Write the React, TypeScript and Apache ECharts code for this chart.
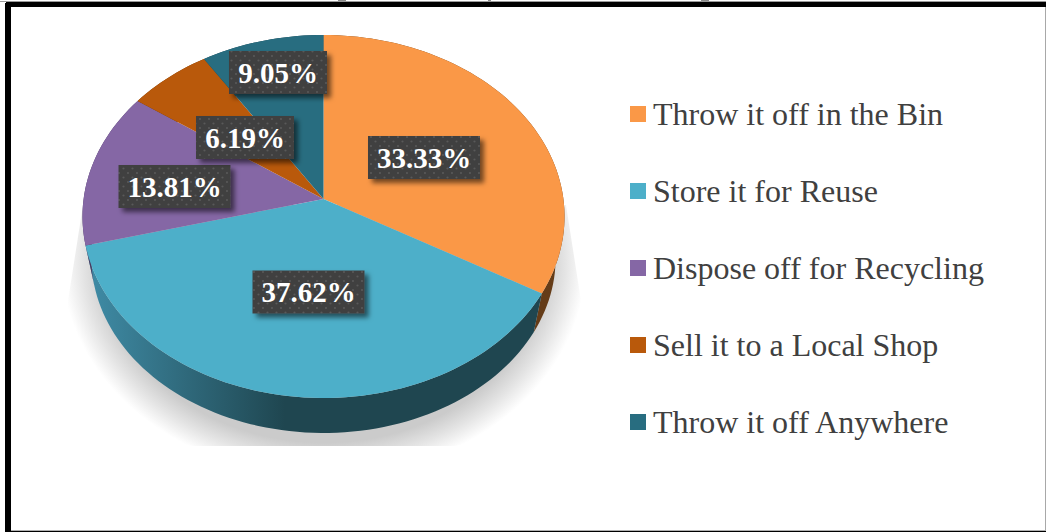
import React, { useEffect, useRef } from "react";
import * as echarts from "echarts";

// Shares of each disposal habit, in percent, clockwise from twelve o'clock.
const categories = [
  "Throw it off in the Bin",
  "Store it for Reuse",
  "Dispose off for Recycling",
  "Sell it to a Local Shop",
  "Throw it off Anywhere",
];
const shares = [33.33, 37.62, 13.81, 6.19, 9.05];

const sliceColors = ["#fa9847", "#4dafc9", "#8567a5", "#b9590b", "#286d80"];
const wallStops = [
  ["#8a5524", "#653c18"],
  ["#3f8ba5", "#1f4650"],
  ["#4a3a60", "#4a3a60"],
  ["#6b3506", "#6b3506"],
  ["#173f4a", "#173f4a"],
];
// Centre of each value tag on the canvas.
const tagCentres = [
  [424, 157.5],
  [308.5, 292],
  [174.5, 186.5],
  [245, 137.5],
  [278, 72.5],
];
const tagHeight = 43;

// Perspective tilt of the disc: the pie's hub sits above the middle of its ellipse.
const hubX = 323.5;
const hubY = 199;
const tilt = 0.0964;
const spreadX = 239.9;
const spreadY = 179.8;
const rimPoint = (share: number): number[] => {
  const t = (share / 100) * Math.PI * 2;
  const u = Math.sin(t);
  const v = -Math.cos(t);
  const d = 1 - v * tilt;
  return [hubX + (spreadX * u) / d, hubY + (spreadY * v) / d];
};
// The underside of the disc is slightly smaller and further down.
const undersidePoint = (p: number[]): number[] => [
  324 + (p[0] - 324) * 0.963,
  258 + (p[1] - 216.5) * 0.964,
];

const arcPoints = (from: number, to: number): number[][] => {
  const steps = Math.max(6, Math.ceil((to - from) * 2));
  const pts: number[][] = [];
  for (let i = 0; i <= steps; i++) pts.push(rimPoint(from + ((to - from) * i) / steps));
  return pts;
};

const makeDotTile = (): string => {
  const c = document.createElement("canvas");
  c.width = 9;
  c.height = 9;
  const g = c.getContext("2d")!;
  g.fillStyle = "rgba(255,255,255,0.13)";
  g.beginPath();
  g.arc(2, 2, 1.1, 0, Math.PI * 2);
  g.arc(6.5, 6.5, 1.1, 0, Math.PI * 2);
  g.fill();
  return c.toDataURL();
};

// Soft floor shadow: a flattened circle trimmed to a wedge and a flat lower edge.
const shadowCy = 262;
const shadowR = 262;
const shadowRy = 215;
const shadowSquash = shadowRy / shadowR;
const shadowPoints = (): number[][] => {
  const pts: number[][] = [];
  for (let i = 0; i < 180; i++) {
    const a = (i / 180) * Math.PI * 2;
    const y = Math.min(446, Math.max(205, shadowCy + Math.sin(a) * shadowRy));
    const k = Math.min(1, (y - 205) / 115);
    const xl = 83 - 18 * k;
    const xr = 566 + 18 * k;
    const x = Math.min(xr, Math.max(xl, 324 + Math.cos(a) * shadowR));
    pts.push([x, (y - shadowCy) / shadowSquash]);
  }
  return pts;
};

const frameRect = (x: number, y: number, w: number, h: number, fill: string) => ({
  type: "rect",
  silent: true,
  shape: { x, y, width: w, height: h },
  style: { fill },
});

export default function App() {
  const ref = useRef<HTMLDivElement>(null);
  useEffect(() => {
    document.body.style.margin = "0";
    const chart = echarts.init(ref.current!, null, { renderer: "svg" });
    const dotTile = makeDotTile();
    let running = 0;
    const series = categories.map((name, idx) => {
      const start = running;
      running += shares[idx];
      return {
        type: "custom",
        name,
        coordinateSystem: "none",
        itemStyle: { color: sliceColors[idx] },
        data: [[start, shares[idx]]],
        renderItem: (_p: any, api: any) => {
          const from = api.value(0);
          const value = api.value(1);
          const to = from + value;
          const rim = arcPoints(from, to);
          const under = rim.map(undersidePoint).reverse();
          const label = `${value.toFixed(2)}%`;
          const tagW = label.length === 6 ? 112 : 98;
          const [cx, cy] = tagCentres[idx];
          return {
            type: "group",
            children: [
              {
                type: "polygon",
                z2: 1,
                shape: { points: [...rim, ...under] },
                style: {
                  fill: new echarts.graphic.LinearGradient(
                    90, 0, 285, 0,
                    [
                      { offset: 0, color: wallStops[idx][0] },
                      { offset: 1, color: wallStops[idx][1] },
                    ],
                    true
                  ),
                },
              },
              {
                type: "polygon",
                z2: 2,
                shape: { points: [[hubX, hubY], ...rim] },
                style: { fill: sliceColors[idx] },
              },
              {
                type: "rect",
                z2: 10,
                shape: { x: cx - tagW / 2, y: cy - tagHeight / 2, width: tagW, height: tagHeight },
                style: {
                  fill: "#404040",
                  shadowBlur: 5,
                  shadowOffsetX: 4,
                  shadowOffsetY: 4,
                  shadowColor: "rgba(0,0,0,0.55)",
                },
              },
              {
                type: "rect",
                z2: 11,
                shape: { x: cx - tagW / 2, y: cy - tagHeight / 2, width: tagW, height: tagHeight },
                style: {
                  fill: { image: dotTile, repeat: "repeat", imageWidth: 9, imageHeight: 9 },
                },
              },
              {
                type: "text",
                z2: 12,
                style: {
                  x: cx,
                  y: cy,
                  text: label,
                  fill: "#ffffff",
                  font: 'bold 29px "Liberation Serif"',
                  textAlign: "center",
                  textVerticalAlign: "middle",
                },
              },
            ],
          };
        },
      };
    });

    chart.setOption({
      animation: false,
      backgroundColor: "#ffffff",
      tooltip: { show: false },
      legend: {
        orient: "vertical",
        left: 625,
        top: 93,
        selectedMode: false,
        icon: "rect",
        itemWidth: 16,
        itemHeight: 16,
        itemGap: 45,
        data: categories,
        textStyle: {
          fontFamily: "Liberation Serif",
          fontSize: 32,
          color: "#404040",
          padding: [0, 0, 0, 2],
        },
      },
      graphic: [
        {
          type: "polygon",
          silent: true,
          z: 0,
          y: shadowCy,
          scaleY: shadowSquash,
          shape: { points: shadowPoints() },
          style: {
            fill: new echarts.graphic.RadialGradient(
              324, 0, shadowR,
              [
                { offset: 0, color: "#cbcbcb" },
                { offset: 0.84, color: "#cbcbcb" },
                { offset: 0.92, color: "#e4e4e4" },
                { offset: 1, color: "#ffffff" },
              ],
              true
            ),
          },
        },
        // Frame: heavy black on top and left, hairlines on the other sides.
        frameRect(0, 1, 1046, 1, "#9a9a9a"),
        frameRect(6, 2, 1040, 5, "#000000"),
        frameRect(5, 3, 6, 529, "#000000"),
        frameRect(1045, 7, 1, 523, "#a8a8a8"),
        frameRect(11, 530, 1035, 1, "#b0b0b0"),
        frameRect(11, 531, 1035, 1, "#000000"),
        // Feet of the heading clipped off above the frame.
        frameRect(338, 0, 8, 1, "#8a8a8a"),
        frameRect(488, 0, 3, 1, "#8a8a8a"),
        frameRect(701, 0, 8, 1, "#8a8a8a"),
      ],
      series,
    });
    return () => chart.dispose();
  }, []);
  return <div ref={ref} style={{ width: 1046, height: 532 }} />;
}
